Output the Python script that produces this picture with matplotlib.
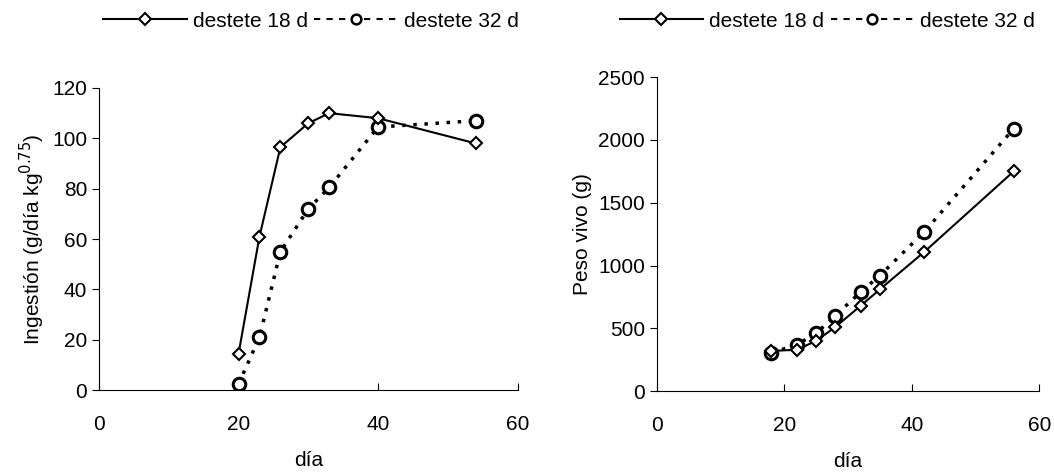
import matplotlib.pyplot as plt
from matplotlib.lines import Line2D

plt.rcParams['font.family'] = ['Liberation Sans', 'DejaVu Sans']
plt.rcParams['font.size'] = 15

# ingestion panel
dia_ing_18 = [20, 23, 26, 30, 33, 40, 54]
ing_18 = [14.5, 61, 96.5, 106, 110, 108, 98]
dia_ing_32 = [20, 23, 26, 30, 33, 40, 54]
ing_32 = [2.5, 21, 55, 72, 80.5, 104.5, 107]

# live weight panel
dia_pv = [18, 22, 25, 28, 32, 35, 42, 56]
pv_18 = [320, 330, 400, 510, 680, 810, 1110, 1750]
pv_32 = [305, 370, 460, 600, 790, 920, 1270, 2090]

labels = ['destete 18 d', 'destete 32 d']

fig = plt.figure(figsize=(10.54, 4.73), dpi=100)
ax1 = fig.add_axes([0.094, 0.175, 0.397, 0.639])
ax2 = fig.add_axes([0.623, 0.173, 0.363, 0.664])

def draw(ax, x18, y18, x32, y32):
    ax.plot(x18, y18, color='black', lw=1.5, marker='D', ms=6.5,
            mfc='white', mec='black', mew=1.5, zorder=3)
    ax.plot(x32, y32, color='black', lw=2.5, ls=(0, (1, 2.2)), marker='o', ms=9,
            mfc='white', mec='black', mew=2.2, zorder=2)
    for s in ['top', 'right']:
        ax.spines[s].set_visible(False)
    ax.tick_params(axis='x', direction='in', length=5, pad=18)
    ax.tick_params(axis='y', direction='out', length=5)
    ax.set_xlim(0, 60)
    ax.set_xticks([0, 20, 40, 60])
    ax.set_xlabel('día', labelpad=12)

draw(ax1, dia_ing_18, ing_18, dia_ing_32, ing_32)
ax1.set_ylim(0, 120)
ax1.set_yticks(range(0, 121, 20))
ax1.set_ylabel('Ingestión (g/día kg$^{0.75}$)')

draw(ax2, dia_pv, pv_18, dia_pv, pv_32)
ax2.set_ylim(0, 2500)
ax2.set_yticks(range(0, 2501, 500))
ax2.set_ylabel('Peso vivo (g)')

handles = [
    Line2D([], [], color='black', lw=1.5, marker='D', ms=6, mfc='white', mec='black', mew=1.5),
    Line2D([], [], color='black', lw=1.5, ls=(0, (3, 3)), marker='o', ms=7, mfc='white', mec='black', mew=1.8),
]
for x in [0.295, 0.785]:
    fig.legend(handles, labels, loc='center', bbox_to_anchor=(x, 0.955), ncol=2,
               frameon=False, handlelength=4.0, columnspacing=0.3, handletextpad=0.3)

fig.savefig('out.png', dpi=100)
